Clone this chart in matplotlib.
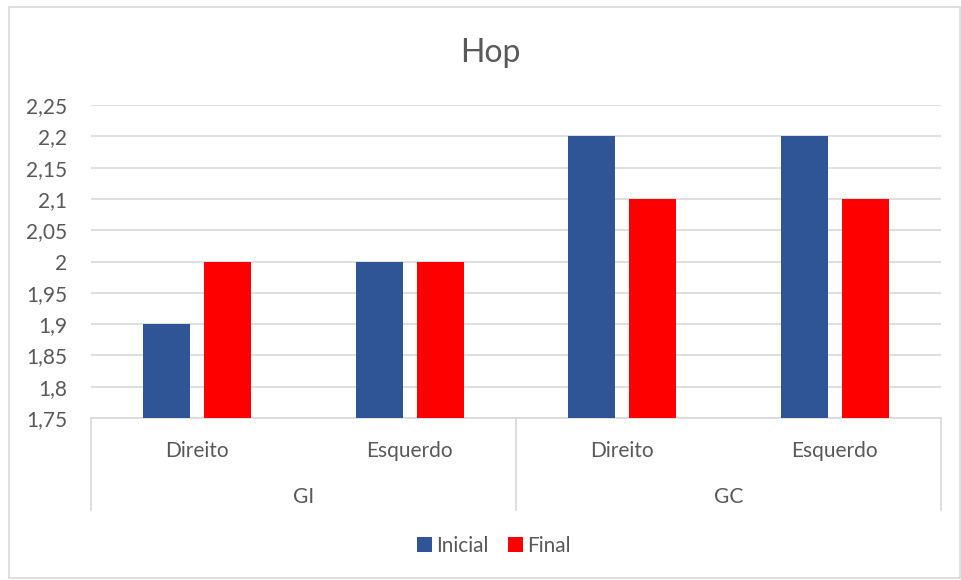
import numpy as np
import matplotlib.pyplot as plt
from matplotlib.ticker import FuncFormatter
from matplotlib.patches import Rectangle
from matplotlib.transforms import blended_transform_factory

# Dados do gráfico
grupos = ['GI', 'GC']
lados = ['Direito', 'Esquerdo', 'Direito', 'Esquerdo']
inicial = [1.9, 2.0, 2.2, 2.2]
final = [2.0, 2.0, 2.1, 2.1]
yticks = [1.75, 1.8, 1.85, 1.9, 1.95, 2.0, 2.05, 2.1, 2.15, 2.2, 2.25]

plt.rcParams['font.family'] = ['Lato', 'DejaVu Sans']
texto = '#595959'
grade = '#D9D9D9'
fs = 15

W, H = 962, 580
fig = plt.figure(figsize=(W / 100, H / 100), dpi=100)
fig.patches.append(Rectangle((8.5 / W, 1 - 578 / H), 952 / W, 571.5 / H, transform=fig.transFigure,
                             fill=False, edgecolor=grade, linewidth=1.2))

left, right, top, bottom = 91, 941, 105, 418
ax = fig.add_axes([left / W, 1 - bottom / H, (right - left) / W, (bottom - top) / H])

x = np.arange(len(lados))
larg = 0.221
desl = 0.1435
ax.bar(x - desl, inicial, larg, color='#2F5597', label='Inicial', zorder=3)
ax.bar(x + desl, final, larg, color='#FF0000', label='Final', zorder=3)

ax.set_xlim(-0.5, len(lados) - 0.5)
ax.set_ylim(1.75, 2.25)
ax.set_yticks(yticks)
ax.yaxis.set_major_formatter(FuncFormatter(lambda v, p: ('%g' % v).replace('.', ',')))
ax.tick_params(axis='y', length=0, pad=17, labelsize=fs, labelcolor=texto)
ax.set_xticks([])
ax.yaxis.grid(True, color=grade, linewidth=1.2)
ax.set_axisbelow(True)
for s in ax.spines.values():
    s.set_visible(False)

# Eixo de categorias em dois níveis
trans = blended_transform_factory(ax.transData, ax.transAxes)
h = bottom - top
base = -(510 - bottom) / h
ax.plot([-0.5, 3.5], [0, 0], transform=trans, color=grade, linewidth=1.2, clip_on=False)
for xv in [-0.5, 1.5, 3.5]:
    ax.plot([xv, xv], [0, base], transform=trans, color=grade, linewidth=1.2, clip_on=False)
for i, lado in enumerate(lados):
    ax.text(i, -(457 - bottom) / h, lado, transform=trans, ha='center', va='baseline',
            fontsize=fs, color=texto)
for j, g in enumerate(grupos):
    ax.text(2 * j + 0.5, -(503 - bottom) / h, g, transform=trans, ha='center', va='baseline',
            fontsize=fs, color=texto)

fig.text(490.5 / W, 1 - 62 / H, 'Hop', ha='center', va='baseline', fontsize=23, color=texto)

fig.legend(loc='center', bbox_to_anchor=(494 / W, 1 - 546 / H), ncol=2, frameon=False,
           fontsize=fs, labelcolor=texto, handlelength=0.72, handleheight=0.72,
           handletextpad=0.2, columnspacing=0.9)

fig.savefig('out.png', dpi=100)
